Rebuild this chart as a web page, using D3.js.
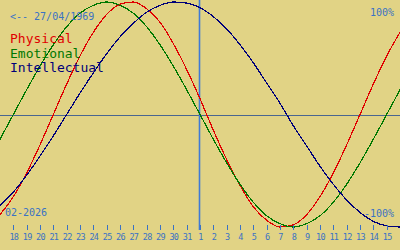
<!DOCTYPE html>
<html>
<head>
<meta charset="utf-8">
<script src="https://cdn.jsdelivr.net/npm/d3@7"></script>
<style>
  html, body { margin: 0; padding: 0; background: #e1d385; }
  svg { display: block; }
  text { font-family: "DejaVu Sans Mono", monospace; }
</style>
</head>
<body>
<svg width="400" height="250"></svg>
<script>
  // Days shown, 17 Jan .. 16 Feb 2026 (index 0 .. 30)
  const dayLabels = ['17', '18', '19', '20', '21', '22', '23', '24', '25', '26', '27', '28', '29', '30', '31',
    '1', '2', '3', '4', '5', '6', '7', '8', '9', '10', '11', '12', '13', '14', '15', '16'];

  // Cycle values, -1 .. 1
  const physical = [-0.89, -0.73, -0.52, -0.27, 0.00, 0.27, 0.52, 0.73, 0.89, 0.98, 1.00, 0.94, 0.82, 0.63, 0.40, 0.14,
    -0.14, -0.40, -0.63, -0.82, -0.94, -1.00, -0.98, -0.89, -0.73, -0.52, -0.27, 0.00, 0.27, 0.52, 0.73];
  const emotional = [-0.22, 0.00, 0.22, 0.43, 0.62, 0.78, 0.90, 0.97, 1.00, 0.97, 0.90, 0.78, 0.62, 0.43, 0.22, 0.00,
    -0.22, -0.43, -0.62, -0.78, -0.90, -0.97, -1.00, -0.97, -0.90, -0.78, -0.62, -0.43, -0.22, 0.00, 0.22];
  const intellectual = [-0.81, -0.69, -0.54, -0.37, -0.19, 0.00, 0.19, 0.37, 0.54, 0.69, 0.81, 0.91, 0.97, 1.00, 0.99, 0.95,
    0.87, 0.76, 0.62, 0.46, 0.28, 0.10, -0.10, -0.28, -0.46, -0.62, -0.76, -0.87, -0.95, -0.99, -1.00];

  const series = [
    { name: 'Physical', values: physical, color: '#e00000' },
    { name: 'Emotional', values: emotional, color: '#007800' },
    { name: 'Intellectual', values: intellectual, color: '#00007a' }
  ];

  const birthLabel = '<-- 27/04/1969';
  const monthLabel = '02-2026';
  const todayIndex = 15;

  const svg = d3.select('svg');
  const width = +svg.attr('width');
  const height = +svg.attr('height');
  const blue = '#3a72c4';

  const x = d3.scaleLinear().domain([0, dayLabels.length - 1]).range([0, width]);
  const y = d3.scaleLinear().domain([-1, 1]).range([227, 2]);

  // Background
  svg.append('rect')
    .attr('width', width)
    .attr('height', height)
    .attr('fill', '#e1d385');

  // Zero line
  svg.append('line')
    .attr('x1', 0).attr('x2', width)
    .attr('y1', Math.round(y(0)) + 0.5).attr('y2', Math.round(y(0)) + 0.5)
    .attr('stroke', '#4a6690')
    .attr('stroke-width', 1.2);

  // Today marker
  svg.append('line')
    .attr('x1', Math.round(x(todayIndex)) - 0.5).attr('x2', Math.round(x(todayIndex)) - 0.5)
    .attr('y1', 0).attr('y2', 230)
    .attr('stroke', '#3f7ad6')
    .attr('stroke-width', 1.6);

  // Curves
  const line = d3.line()
    .x((d, i) => x(i))
    .y(d => y(d))
    .curve(d3.curveMonotoneX);

  svg.selectAll('.cycle')
    .data(series)
    .enter().append('path')
    .attr('class', 'cycle')
    .attr('d', d => line(d.values))
    .attr('fill', 'none')
    .attr('stroke', d => d.color)
    .attr('stroke-width', 1.2)
    .attr('shape-rendering', 'crispEdges');

  // Day axis
  const axis = d3.axisBottom(x)
    .tickValues(d3.range(1, dayLabels.length - 1))
    .tickFormat(i => dayLabels[i])
    .tickSize(5)
    .tickPadding(4);

  const axisG = svg.append('g')
    .attr('transform', 'translate(0,225)')
    .call(axis);
  axisG.select('.domain').remove();
  axisG.selectAll('line').attr('stroke', blue).attr('shape-rendering', 'crispEdges');
  axisG.selectAll('text')
    .attr('fill', blue)
    .attr('font-size', 8.5)
    .attr('letter-spacing', -0.7)
    .attr('font-family', '"DejaVu Sans Mono", monospace');

  // Legend
  svg.selectAll('.legend')
    .data(series)
    .enter().append('text')
    .attr('class', 'legend')
    .attr('x', 10)
    .attr('y', (d, i) => 43 + i * 14.5)
    .attr('font-size', 13)
    .attr('fill', d => d.color)
    .text(d => d.name);

  // Labels
  svg.append('text')
    .attr('x', 10).attr('y', 20)
    .attr('font-size', 10)
    .attr('fill', blue)
    .text(birthLabel);

  svg.append('text')
    .attr('x', 394).attr('y', 16)
    .attr('font-size', 10)
    .attr('text-anchor', 'end')
    .attr('fill', blue)
    .text('100%');

  svg.append('text')
    .attr('x', 394).attr('y', 217)
    .attr('font-size', 10)
    .attr('text-anchor', 'end')
    .attr('fill', blue)
    .text('-100%');

  svg.append('text')
    .attr('x', 5).attr('y', 216)
    .attr('font-size', 10)
    .attr('fill', blue)
    .text(monthLabel);
</script>
</body>
</html>
